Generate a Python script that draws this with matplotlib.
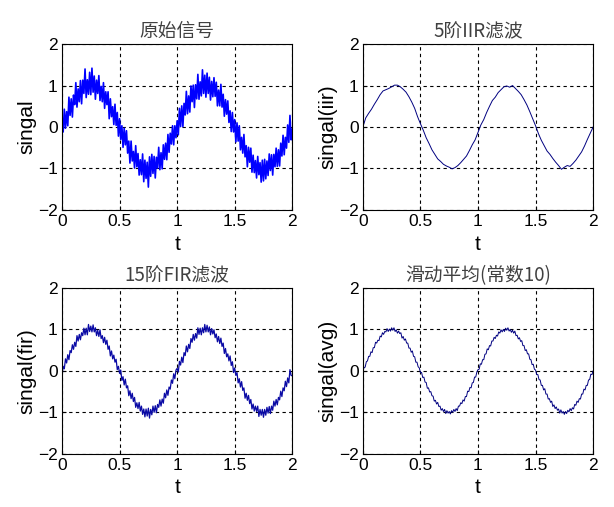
import matplotlib
matplotlib.use("Agg")
import matplotlib.pyplot as plt
import numpy as np

plt.rcParams["font.family"] = ["Liberation Sans", "Noto Sans CJK SC", "DejaVu Sans"]

# raw noisy signal, sampled every 0.01 s
raw = [
    0.10, -0.12, 0.43, -0.03, 0.37, 0.03, 0.72, 0.28, 0.68, 0.24, 0.77, 0.54, 1.07, 0.48, 0.92, 0.61, 1.12, 0.56, 1.13, 0.81, 1.40, 0.71, 1.14, 0.79, 1.32,
    0.78, 1.42, 0.84, 1.23, 0.67, 1.13, 0.81, 1.24, 0.64, 0.98, 0.61, 1.07, 0.45, 0.85, 0.54, 0.85, 0.20, 0.68, 0.25, 0.49, 0.06, 0.55, 0.04, 0.35, -0.22,
    0.20, -0.30, 0.03, -0.49, -0.03, -0.43, -0.09, -0.63, -0.34, -0.87, -0.34, -0.82, -0.59, -0.99, -0.45, -0.96, -0.64, -1.16, -0.79, -1.15, -0.65, -1.32, -0.80, -1.24, -0.85,
    -1.45, -0.72, -1.19, -0.66, -1.12, -0.71, -1.23, -0.73, -0.99, -0.49, -1.03, -0.62, -1.01, -0.43, -0.78, -0.39, -0.79, -0.18, -0.61, -0.15, -0.41, 0.03, -0.43, 0.03, -0.26,
    0.15, -0.19, 0.45, 0.01, 0.51, 0.01, 0.57, 0.29, 0.86, 0.32, 0.75, 0.36, 0.99, 0.61, 1.01, 0.47, 1.02, 0.68, 1.27, 0.67, 1.09, 0.75, 1.38, 0.81, 1.25,
    0.72, 1.30, 0.81, 1.20, 0.65, 1.10, 0.73, 1.19, 0.74, 1.08, 0.51, 0.89, 0.51, 1.03, 0.48, 0.79, 0.26, 0.66, 0.31, 0.63, 0.11, 0.39, -0.11, 0.35, -0.12,
    0.18, -0.36, 0.10, -0.34, 0.03, -0.55, -0.25, -0.63, -0.18, -0.72, -0.45, -0.96, -0.49, -0.85, -0.51, -1.09, -0.68, -1.10, -0.81, -1.23, -0.71, -1.15, -0.86, -1.33, -0.80,
    -1.30, -0.78, -1.25, -0.82, -1.17, -0.65, -1.05, -0.67, -1.16, -0.66, -0.96, -0.51, -0.95, -0.55, -0.94, -0.39, -0.70, -0.20, -0.67, -0.25, -0.51, 0.05, -0.37, 0.28, -0.31,
    -0.05,
]

# 5th order IIR output, sampled every 0.025 s
iir = [
    0.00, 0.22, 0.33, 0.43, 0.55, 0.66, 0.78, 0.87, 0.90, 0.93, 0.97, 1.01, 1.01, 0.97, 0.91, 0.84, 0.73, 0.60, 0.45, 0.25,
    0.08, -0.08, -0.26, -0.40, -0.55, -0.66, -0.77, -0.83, -0.90, -0.94, -0.97, -1.01, -0.98, -0.93, -0.86, -0.78, -0.70, -0.57, -0.43, -0.31,
    -0.13, 0.05, 0.18, 0.35, 0.50, 0.64, 0.72, 0.83, 0.90, 0.97, 0.99, 0.96, 1.00, 0.93, 0.86, 0.78, 0.66, 0.53, 0.37, 0.20,
    0.03, -0.16, -0.32, -0.45, -0.58, -0.66, -0.76, -0.85, -0.93, -1.02, -0.97, -0.93, -0.95, -0.88, -0.80, -0.70, -0.60, -0.46, -0.30, -0.15,
    0.00,
]

# 15th order FIR output, sampled every 0.01 s
fir = [
    -0.12, 0.11, 0.05, 0.29, 0.19, 0.39, 0.27, 0.49, 0.44, 0.63, 0.52, 0.69, 0.59, 0.85, 0.72, 0.88, 0.75, 0.92, 0.85, 1.03, 0.87, 1.03, 0.87, 1.12, 0.95,
    1.08, 0.94, 1.11, 0.94, 1.04, 0.85, 0.98, 0.83, 0.99, 0.78, 0.85, 0.68, 0.81, 0.64, 0.74, 0.52, 0.60, 0.36, 0.48, 0.29, 0.38, 0.21, 0.28, 0.03, 0.11,
    -0.06, 0.02, -0.23, -0.14, -0.34, -0.20, -0.41, -0.36, -0.60, -0.48, -0.67, -0.54, -0.74, -0.64, -0.88, -0.77, -0.91, -0.76, -0.97, -0.85, -1.05, -0.92, -1.11, -0.92, -1.09,
    -0.90, -1.14, -0.93, -1.06, -0.85, -1.00, -0.84, -1.01, -0.81, -0.88, -0.70, -0.85, -0.68, -0.78, -0.54, -0.65, -0.46, -0.59, -0.39, -0.44, -0.22, -0.30, -0.07, -0.19, 0.02,
    0.06, -0.03, 0.23, 0.14, 0.33, 0.20, 0.44, 0.37, 0.60, 0.46, 0.64, 0.54, 0.78, 0.69, 0.88, 0.74, 0.90, 0.79, 1.04, 0.88, 1.03, 0.87, 1.04, 0.92, 1.12,
    0.94, 1.10, 0.94, 1.06, 0.87, 1.02, 0.89, 0.99, 0.80, 0.89, 0.70, 0.83, 0.66, 0.79, 0.59, 0.67, 0.42, 0.54, 0.34, 0.41, 0.24, 0.36, 0.13, 0.22, -0.04,
    0.07, -0.11, -0.04, -0.29, -0.19, -0.39, -0.26, -0.47, -0.41, -0.66, -0.54, -0.71, -0.59, -0.79, -0.69, -0.92, -0.80, -0.97, -0.85, -0.98, -0.85, -1.10, -0.93, -1.07, -0.93,
    -1.12, -0.93, -1.07, -0.88, -1.02, -0.86, -1.03, -0.85, -0.95, -0.73, -0.85, -0.69, -0.82, -0.64, -0.70, -0.49, -0.62, -0.41, -0.48, -0.25, -0.38, -0.17, -0.29, 0.03, -0.11,
    -0.12,
]

# moving average (10 samples), sampled every 0.01 s
avg = [
    -0.03, 0.08, 0.09, 0.22, 0.24, 0.35, 0.35, 0.46, 0.44, 0.56, 0.56, 0.69, 0.67, 0.74, 0.73, 0.84, 0.82, 0.92, 0.88, 0.95, 0.94, 1.02, 0.95, 1.01, 0.96,
    1.04, 0.98, 1.04, 0.95, 0.99, 0.91, 0.96, 0.90, 0.92, 0.79, 0.83, 0.74, 0.77, 0.67, 0.67, 0.55, 0.55, 0.45, 0.48, 0.35, 0.34, 0.21, 0.21, 0.10, 0.07,
    -0.04, -0.04, -0.16, -0.15, -0.27, -0.28, -0.42, -0.41, -0.51, -0.50, -0.60, -0.61, -0.73, -0.71, -0.80, -0.76, -0.86, -0.85, -0.95, -0.91, -0.98, -0.93, -1.03, -0.96, -1.02,
    -0.98, -1.04, -0.96, -1.00, -0.93, -0.98, -0.91, -0.96, -0.85, -0.85, -0.77, -0.79, -0.70, -0.73, -0.62, -0.62, -0.49, -0.50, -0.40, -0.41, -0.29, -0.28, -0.15, -0.15, -0.03,
    0.03, 0.04, 0.17, 0.16, 0.27, 0.27, 0.40, 0.41, 0.53, 0.51, 0.61, 0.60, 0.72, 0.72, 0.81, 0.78, 0.86, 0.84, 0.94, 0.91, 0.99, 0.94, 1.00, 0.95, 1.03,
    0.98, 1.04, 0.96, 1.00, 0.93, 0.98, 0.91, 0.96, 0.85, 0.86, 0.77, 0.80, 0.71, 0.73, 0.61, 0.61, 0.49, 0.51, 0.41, 0.41, 0.28, 0.27, 0.15, 0.16, 0.04,
    0.02, -0.09, -0.09, -0.21, -0.22, -0.35, -0.35, -0.46, -0.43, -0.56, -0.56, -0.68, -0.67, -0.76, -0.73, -0.86, -0.82, -0.91, -0.87, -0.95, -0.92, -1.02, -0.94, -1.02, -0.98,
    -1.05, -0.98, -1.03, -0.95, -0.99, -0.91, -0.96, -0.89, -0.92, -0.81, -0.83, -0.73, -0.76, -0.67, -0.68, -0.56, -0.56, -0.44, -0.46, -0.35, -0.35, -0.22, -0.21, -0.08, -0.09,
    0.00,
]

titles = ["原始信号", "5阶IIR滤波", "15阶FIR滤波", "滑动平均(常数10)"]
ylabels = ["singal", "singal(iir)", "singal(fir)", "singal(avg)"]
series = [raw, iir, fir, avg]
colors = ["#0000ff", "#000080", "#0a0aa5", "#000080"]
widths = [1.2, 0.7, 0.9, 0.7]
xticks = [0, 0.5, 1, 1.5, 2]
xtick_labels = ["0", "0.5", "1", "1.5", "2"]
yticks = [-2, -1, 0, 1, 2]

fig = plt.figure(figsize=(6.14, 5.07), dpi=100)
positions = [
    [0.101, 0.586, 0.375, 0.327],
    [0.591, 0.586, 0.375, 0.327],
    [0.101, 0.105, 0.375, 0.327],
    [0.591, 0.105, 0.375, 0.327],
]

for pos, y, title, ylab, c, lw in zip(positions, series, titles, ylabels, colors, widths):
    ax = fig.add_axes(pos)
    t = np.linspace(0, 2, len(y))
    ax.plot(t, y, color=c, linewidth=lw)
    ax.set_xlim(0, 2)
    ax.set_ylim(-2, 2)
    ax.set_xticks(xticks)
    ax.set_xticklabels(xtick_labels)
    ax.set_yticks(yticks)
    ax.tick_params(direction="in", length=3, labelsize=12.5, pad=3)
    ax.grid(True, color="black", linestyle=(0, (3, 3)), linewidth=0.8)
    ax.set_title(title, fontsize=13.5, color="#404040", pad=5,
                 family=["Noto Sans CJK SC", "DejaVu Sans"])
    ax.set_xlabel("t", fontsize=15, labelpad=4)
    ax.set_ylabel(ylab, fontsize=15, labelpad=1)
    for s in ax.spines.values():
        s.set_linewidth(0.8)

fig.savefig("out.png", dpi=100)
